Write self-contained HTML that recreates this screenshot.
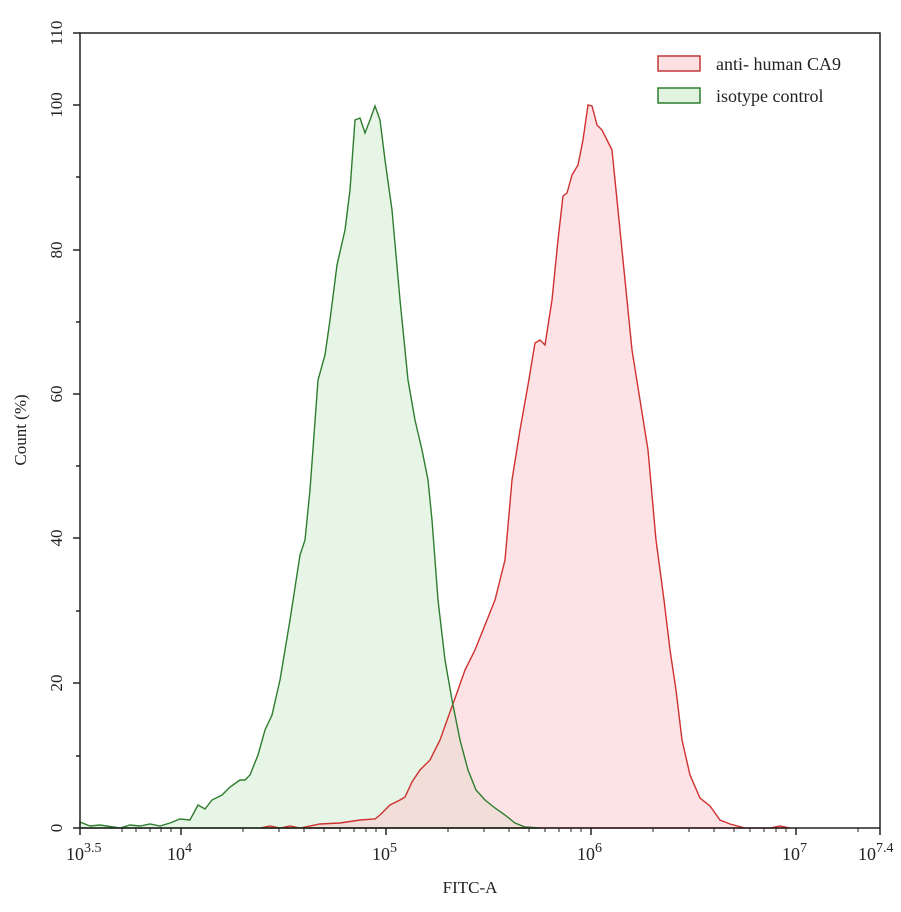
<!DOCTYPE html>
<html><head><meta charset="utf-8"><style>body{margin:0;background:#fff}</style></head><body>
<svg width="901" height="907" xmlns="http://www.w3.org/2000/svg" font-family="Liberation Serif, serif">
<rect width="901" height="907" fill="#fff"/>
<defs>
<path id="g" d="M80,828 L80,822 L90,826 L100,825 L120,828 L130,825 L140,826 L150,824 L160,826 L170,823 L180,819 L190,820 L198,805 L205,809 L212,800 L222,795 L230,787 L240,780 L245,780 L250,775 L258,755 L265,730 L272,715 L280,680 L290,620 L300,555 L305,540 L310,490 L318,380 L325,355 L330,320 L337,265 L345,230 L350,190 L355,120 L360,118 L365,133 L370,120 L375,106 L380,120 L385,160 L392,210 L400,300 L408,380 L415,420 L422,450 L428,480 L432,520 L438,600 L445,660 L452,700 L460,740 L468,770 L476,790 L485,800 L495,808 L505,815 L515,823 L525,827 L540,828 Z"/>
<path id="r" d="M260,828 L270,826 L280,828 L290,826 L300,828 L320,824 L340,823 L360,820 L375,819 L380,815 L390,805 L400,800 L405,797 L412,782 L420,770 L430,760 L440,740 L450,712 L458,690 L465,670 L475,650 L485,625 L495,600 L505,560 L512,480 L520,430 L528,385 L535,343 L540,340 L545,345 L552,300 L558,240 L563,196 L567,193 L572,175 L578,165 L583,140 L588,105 L592,106 L597,125 L602,130 L607,140 L612,150 L618,210 L625,280 L632,350 L640,400 L648,450 L656,540 L664,600 L670,650 L676,690 L682,740 L690,775 L700,798 L710,806 L720,820 L730,824 L745,828 L770,828 L780,826 L790,828 Z"/>
</defs>
<use href="#g" fill="#c8e8c8" fill-opacity="0.45"/>
<use href="#r" fill="#fbc8cc" fill-opacity="0.5"/>
<use href="#r" fill="none" stroke="#d03030" stroke-width="1.4"/>
<use href="#g" fill="none" stroke="#2e7d2e" stroke-width="1.4"/>
<rect x="80" y="33" width="800" height="795" fill="none" stroke="#222" stroke-width="1.5"/>
<g stroke="#222" stroke-width="1.5">
<line x1="73" y1="828" x2="80" y2="828"/><line x1="73" y1="683" x2="80" y2="683"/><line x1="73" y1="538" x2="80" y2="538"/><line x1="73" y1="394" x2="80" y2="394"/><line x1="73" y1="250" x2="80" y2="250"/><line x1="73" y1="105" x2="80" y2="105"/><line x1="73" y1="33" x2="80" y2="33"/>
<line x1="76" y1="756" x2="80" y2="756"/><line x1="76" y1="611" x2="80" y2="611"/><line x1="76" y1="466" x2="80" y2="466"/><line x1="76" y1="322" x2="80" y2="322"/><line x1="76" y1="177" x2="80" y2="177"/>
<line x1="80" y1="828" x2="80" y2="835"/><line x1="181" y1="828" x2="181" y2="835"/><line x1="386" y1="828" x2="386" y2="835"/><line x1="591" y1="828" x2="591" y2="835"/><line x1="796" y1="828" x2="796" y2="835"/><line x1="880" y1="828" x2="880" y2="835"/>
</g>
<g stroke="#222" stroke-width="1">
<line x1="122" y1="828" x2="122" y2="832"/><line x1="136" y1="828" x2="136" y2="832"/><line x1="150" y1="828" x2="150" y2="832"/><line x1="161" y1="828" x2="161" y2="832"/><line x1="171" y1="828" x2="171" y2="832"/>
<line x1="243" y1="828" x2="243" y2="832"/><line x1="279" y1="828" x2="279" y2="832"/><line x1="304" y1="828" x2="304" y2="832"/><line x1="324" y1="828" x2="324" y2="832"/><line x1="340" y1="828" x2="340" y2="832"/><line x1="354" y1="828" x2="354" y2="832"/><line x1="366" y1="828" x2="366" y2="832"/><line x1="376" y1="828" x2="376" y2="832"/>
<line x1="448" y1="828" x2="448" y2="832"/><line x1="484" y1="828" x2="484" y2="832"/><line x1="509" y1="828" x2="509" y2="832"/><line x1="529" y1="828" x2="529" y2="832"/><line x1="545" y1="828" x2="545" y2="832"/><line x1="559" y1="828" x2="559" y2="832"/><line x1="571" y1="828" x2="571" y2="832"/><line x1="581" y1="828" x2="581" y2="832"/>
<line x1="653" y1="828" x2="653" y2="832"/><line x1="689" y1="828" x2="689" y2="832"/><line x1="714" y1="828" x2="714" y2="832"/><line x1="734" y1="828" x2="734" y2="832"/><line x1="750" y1="828" x2="750" y2="832"/><line x1="764" y1="828" x2="764" y2="832"/><line x1="776" y1="828" x2="776" y2="832"/><line x1="786" y1="828" x2="786" y2="832"/>
<line x1="858" y1="828" x2="858" y2="832"/>
</g>
<g font-size="17" fill="#222" text-anchor="middle">
<text transform="translate(62,828) rotate(-90)">0</text>
<text transform="translate(62,683) rotate(-90)">20</text>
<text transform="translate(62,538) rotate(-90)">40</text>
<text transform="translate(62,394) rotate(-90)">60</text>
<text transform="translate(62,250) rotate(-90)">80</text>
<text transform="translate(62,105) rotate(-90)">100</text>
<text transform="translate(62,33) rotate(-90)">110</text>
<text transform="translate(26,430) rotate(-90)">Count  (%)</text>
<text x="470" y="893">FITC-A</text>
</g>
<g font-size="18" fill="#222">
<text x="66" y="860">10<tspan font-size="14" dy="-8">3.5</tspan></text>
<text x="167" y="860">10<tspan font-size="14" dy="-8">4</tspan></text>
<text x="372" y="860">10<tspan font-size="14" dy="-8">5</tspan></text>
<text x="577" y="860">10<tspan font-size="14" dy="-8">6</tspan></text>
<text x="782" y="860">10<tspan font-size="14" dy="-8">7</tspan></text>
<text x="858" y="860">10<tspan font-size="14" dy="-8">7.4</tspan></text>
</g>
<rect x="658" y="56" width="42" height="15" fill="#fde0e2" stroke="#c03838" stroke-width="1.5"/>
<rect x="658" y="88" width="42" height="15" fill="#e0f2e0" stroke="#2e7d2e" stroke-width="1.5"/>
<g font-size="18" fill="#222"><text x="716" y="70">anti- human CA9</text><text x="716" y="102">isotype  control</text></g>
</svg>
</body></html>
